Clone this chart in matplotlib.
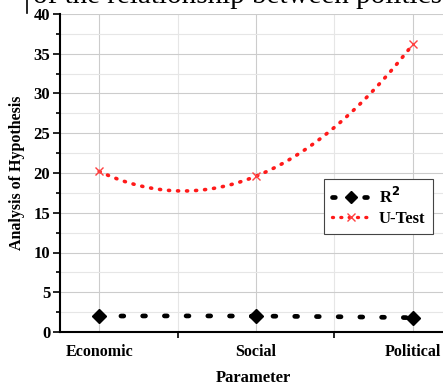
import numpy as np
import matplotlib.pyplot as plt
from matplotlib.ticker import MultipleLocator, FixedLocator

plt.rcParams['font.family'] = ['Liberation Serif', 'DejaVu Serif']
plt.rcParams['font.weight'] = 'bold'

categories = ['Economic', 'Social', 'Political']
r2 = [2.0, 2.0, 1.8]
u_test = [20.2, 19.6, 36.2]

x = np.arange(len(categories))

fig = plt.figure(figsize=(4.43, 3.85), dpi=100)
ax = fig.add_axes([60 / 443, 1 - 332 / 385, 1 - 60 / 443 + 0.01, (332 - 14) / 385])

# smooth connection through the three points (spline-like, as in the source)
xs = np.linspace(0, 2, 200)
coef = np.polyfit(x, u_test, 2)
ax.plot(xs, np.polyval(coef, xs), color='#ff1a1a', lw=2.6, linestyle=(0, (0.3, 2.2)),
        dash_capstyle='round', zorder=3)
ax.plot(x, u_test, linestyle='none', marker='x', color='#ff4040', ms=6, mew=1.0, zorder=4)

coef2 = np.polyfit(x, r2, 2)
ax.plot(xs, np.polyval(coef2, xs), color='black', lw=3.4, linestyle=(0, (0.6, 4.0)),
        dash_capstyle='round', zorder=3)
ax.plot(x, r2, linestyle='none', marker='D', color='black', ms=7.5, zorder=4)

# legend proxies
h1, = ax.plot([], [], color='black', lw=3.4, linestyle=(0, (0.6, 2.8)), dash_capstyle='round',
              marker='D', ms=6)
h2, = ax.plot([], [], color='#ff1a1a', lw=2.4, linestyle=(0, (0.3, 2.2)), dash_capstyle='round',
              marker='x', ms=6, mec='#ff4040')
leg = ax.legend([h1, h2], ['R$^\\mathbf{2}$', 'U-Test'], loc='upper left',
                bbox_to_anchor=((325 - 60) / 388.4, 1 - (179 - 14) / 318),
                frameon=True, fancybox=False, edgecolor='#444444', framealpha=1,
                handlelength=2.3, handletextpad=0.5, borderpad=0.45, labelspacing=0.25,
                borderaxespad=0, prop={'weight': 'bold', 'size': 12})
leg.get_frame().set_linewidth(0.8)

ax.set_xlim(-0.25, 2.22)
ax.set_ylim(0, 40)
ax.set_xticks(x)
ax.set_xticklabels(categories, fontsize=11.5, fontweight='bold')
ax.xaxis.set_minor_locator(FixedLocator([0.5, 1.5]))
ax.yaxis.set_major_locator(MultipleLocator(5))
ax.yaxis.set_minor_locator(MultipleLocator(2.5))
ax.tick_params(axis='x', which='major', length=0, pad=9)
ax.tick_params(axis='x', which='minor', length=4, width=1.2, direction='out')
ax.tick_params(axis='y', which='major', length=5, width=1.2, direction='out', labelsize=12, pad=2)
ax.tick_params(axis='y', which='minor', length=3, width=1.2, direction='out')
for lab in ax.get_yticklabels():
    lab.set_fontweight('bold')

ax.grid(True, which='major', color='#cccccc', lw=0.8)
ax.grid(True, which='minor', color='#e6e6e6', lw=0.8)
ax.set_axisbelow(True)

for s in ['top', 'right']:
    ax.spines[s].set_visible(False)
ax.spines['left'].set_linewidth(1.5)
ax.spines['bottom'].set_linewidth(1.5)

ax.set_xlabel('Parameter', fontsize=12, fontweight='bold', labelpad=7)
ax.set_ylabel('Analysis of Hypothesis', fontsize=11.5, fontweight='bold', labelpad=6)

# clipped caption at the top of the image
fig.text(33 / 443, 1 - 3 / 385, 'of the relationship between politics', fontsize=21,
         fontweight='normal', ha='left', va='baseline')
fig.add_artist(plt.Line2D([27 / 443, 27 / 443], [1, 1 - 13 / 385], color='black', lw=1.2))

fig.savefig('out.png', dpi=100)
